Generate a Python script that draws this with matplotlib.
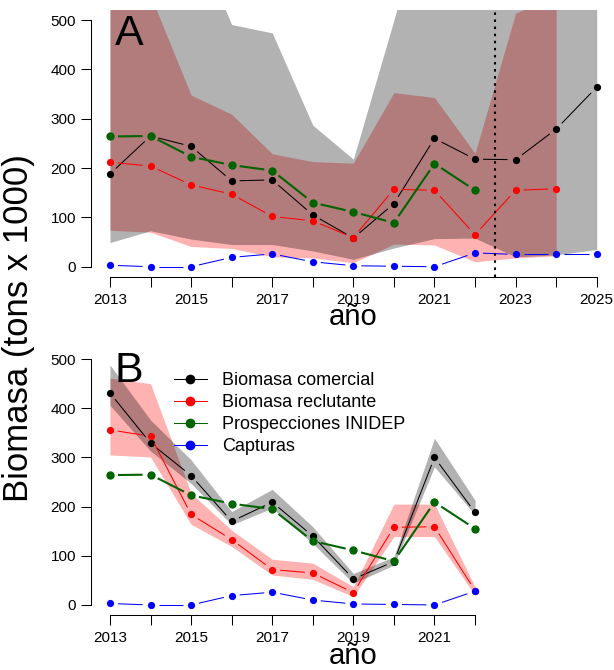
import numpy as np
import matplotlib
matplotlib.use("Agg")
import matplotlib.pyplot as plt
from matplotlib.lines import Line2D

plt.rcParams["font.family"] = ["Liberation Sans", "DejaVu Sans"]

# panel A: model fit + projection
years_a = [2013, 2014, 2015, 2016, 2017, 2018, 2019, 2020, 2021, 2022, 2023, 2024, 2025]
com_a = [188, 265, 244, 174, 176, 105, 58, 128, 260, 218, 217, 279, 364]
com_lo_a = [49, 73, 56, 45, 45, 32, 15, 38, 57, 58, 20, 24, 35]
com_hi_a = [900, 800, 684, 491, 474, 287, 218, 500, 800, 700, 800, 900, 1000]
years_rec_a = [2013, 2014, 2015, 2016, 2017, 2018, 2019, 2020, 2021, 2022, 2023, 2024]
rec_a = [212, 204, 166, 147, 102, 93, 59, 157, 155, 65, 155, 158]
rec_lo_a = [74, 70, 41, 37, 20, 18, 8, 46, 44, 10, 18, 22]
rec_hi_a = [600, 550, 348, 309, 229, 213, 210, 353, 343, 230, 514, 550]
capt_a = [3, 0, 0, 19, 26, 10, 2, 1, 0, 28, 25, 25, 25]

# panel B: retrospective fit
years_b = [2013, 2014, 2015, 2016, 2017, 2018, 2019, 2020, 2021, 2022]
com_b = [431, 329, 263, 170, 209, 140, 53, 88, 300, 188]
com_lo_b = [406, 313, 247, 163, 197, 125, 44, 81, 281, 183]
com_hi_b = [488, 376, 295, 190, 235, 159, 64, 98, 339, 213]
rec_b = [356, 343, 184, 133, 72, 65, 25, 158, 159, 29]
rec_lo_b = [305, 301, 164, 119, 61, 52, 17, 139, 139, 20]
rec_hi_b = [461, 450, 227, 152, 93, 85, 37, 205, 205, 37]
capt_b = [3, 0, 0, 19, 26, 10, 2, 1, 0, 28]

# INIDEP surveys (same in both panels)
years_insp = [2013, 2014, 2015, 2016, 2017, 2018, 2019, 2020, 2021, 2022]
insp = [264, 265, 223, 206, 195, 130, 111, 89, 209, 155]

proj_start = 2022.5
labels = ["Biomasa comercial", "Biomasa reclutante", "Prospecciones INIDEP", "Capturas"]
GREEN = "#006400"

W, H = 614, 670
fig = plt.figure(figsize=(W / 100, H / 100), dpi=100)


def px_box(l, t, r, b):
    return [l / W, 1 - b / H, (r - l) / W, (b - t) / H]


def gapped(ax, x, y, color, lw, ms, gap=8):
    """R type='b': points joined by lines that stop short of the points."""
    pts = ax.transData.transform(np.column_stack([x, y]))
    inv = ax.transData.inverted()
    for p0, p1 in zip(pts[:-1], pts[1:]):
        d = p1 - p0
        L = np.hypot(*d)
        if L <= 2 * gap:
            continue
        u = d / L
        a = inv.transform(p0 + u * gap)
        b = inv.transform(p1 - u * gap)
        ax.plot([a[0], b[0]], [a[1], b[1]], color=color, lw=lw,
                solid_capstyle="butt")
    ax.plot(x, y, "o", color=color, ms=ms, mew=0)


def setup(ax, last_year):
    ax.set_xlim(2012.52, 2025.48)
    ax.set_ylim(-20, 520)
    for s in ["top", "right"]:
        ax.spines[s].set_visible(False)
    ax.spines["left"].set_bounds(0, 500)
    ax.spines["bottom"].set_bounds(2013, last_year)
    for s in ["left", "bottom"]:
        ax.spines[s].set_linewidth(0.75)
    yrs = list(range(2013, last_year + 1))
    ax.set_xticks(yrs)
    ax.set_xticklabels([str(y) if (y - 2013) % 2 == 0 else "" for y in yrs])
    ax.set_yticks([0, 100, 200, 300, 400, 500])
    ax.tick_params(direction="out", length=7, width=0.75, labelsize=11)
    ax.tick_params(axis="x", pad=5)
    ax.tick_params(axis="y", pad=3.5)
    ax.patch.set_alpha(0)


ax_a = fig.add_axes(px_box(90.5, 10.2, 616.2, 276.6))
ax_b = fig.add_axes(px_box(90.5, 349.2, 616.2, 614.8))
setup(ax_a, 2025)
setup(ax_b, 2022)

# --- panel A
ax_a.fill_between(years_rec_a, rec_lo_a, rec_hi_a, color="red", alpha=0.3, lw=0)
ax_a.fill_between(years_a, com_lo_a, com_hi_a, color="black", alpha=0.3, lw=0)
gapped(ax_a, years_a, com_a, "black", 0.75, 5.2)
gapped(ax_a, years_rec_a, rec_a, "red", 0.75, 5.2)
gapped(ax_a, years_insp, insp, GREEN, 1.5, 6.0)
gapped(ax_a, years_a, capt_a, "blue", 0.75, 5.2)
ax_a.axvline(proj_start, color="black", lw=1.5, ls=(0, (1.2, 2.2)))
ax_a.text(2013.12, 449, "A", fontsize=31, ha="left", va="baseline")

# --- panel B
ax_b.fill_between(years_b, rec_lo_b, rec_hi_b, color="red", alpha=0.3, lw=0)
ax_b.fill_between(years_b, com_lo_b, com_hi_b, color="black", alpha=0.3, lw=0)
gapped(ax_b, years_b, com_b, "black", 0.75, 5.2)
gapped(ax_b, years_b, rec_b, "red", 0.75, 5.2)
gapped(ax_b, years_insp, insp, GREEN, 1.5, 6.0)
gapped(ax_b, years_b, capt_b, "blue", 0.75, 5.2)
ax_b.text(2013.12, 454, "B", fontsize=31, ha="left", va="baseline")

handles = [Line2D([], [], color=c, lw=0.75, marker="o", ms=7, mew=0)
           for c in ["black", "red", GREEN, "blue"]]
fig.legend(handles, labels, loc="upper left", bbox_to_anchor=(174 / W, 1 - 372 / H),
           frameon=False, fontsize=13, handlelength=1.8, handletextpad=0.85,
           labelspacing=0.28, borderpad=0, borderaxespad=0)

# axis titles
fig.text(353 / W, 1 - 325 / H, "año", fontsize=21, ha="center", va="baseline")
fig.text(353 / W, 1 - 664 / H, "año", fontsize=21, ha="center", va="baseline")
fig.text(19 / W, 1 - 328 / H, "Biomasa (tons x 1000)", fontsize=25,
         rotation=90, ha="center", va="center")

fig.savefig("out.png", dpi=100)
